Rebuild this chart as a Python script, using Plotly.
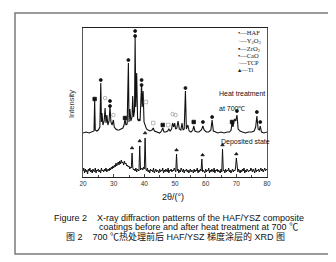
import plotly.graph_objects as go

# ---------------- data ----------------
# Heat treated at 700 C (upper pattern)
heat_x = [20, 21, 22, 23, 23.6, 23.8, 24.0, 24.5, 25.0, 25.5, 25.8, 26.0, 26.2, 26.5, 26.9, 27.2, 27.5, 27.8,
          28.1, 28.5, 28.8, 29.1, 29.5, 29.9, 30.2, 30.7, 31.2, 31.8, 32.4, 33.0, 33.4, 33.7, 34.0, 34.4, 34.8,
          35.0, 35.3, 35.6, 36.0, 36.2, 36.5, 36.8, 37.0, 37.2, 37.5, 37.8, 38.1, 38.3, 38.6, 39.0, 39.1, 39.3,
          39.6, 39.9, 40.3, 40.7, 41.2, 41.8, 42.5, 42.9, 43.3, 44, 45, 45.6, 46.0, 46.4, 47, 47.6, 48.0, 48.4,
          48.9, 49.2, 49.6, 49.9, 50.2, 50.6, 51.0, 51.4, 51.9, 52.3, 52.6, 53.0, 53.4, 53.7, 54.2, 54.6, 55.2,
          55.8, 56.1, 56.5, 57.2, 57.8, 58.6, 59.1, 59.5, 60.2, 61.0, 61.7, 62.1, 62.5, 63.2, 64, 65, 66, 67,
          67.8, 68.3, 68.6, 68.9, 69.4, 69.8, 70.2, 70.6, 71.2, 72, 73, 74, 75, 75.8, 76.3, 76.7, 77.1, 77.5,
          77.8, 78.2, 79, 80]
heat_y = [44, 45, 44, 45, 46, 77, 47, 46, 47, 50, 94, 55, 64, 52, 56, 69, 54, 62,
          52, 56, 71, 55, 52, 57, 50, 48, 47, 47, 48, 49, 52, 58, 52, 53, 114,
          55, 68, 56, 60, 81, 60, 66, 140, 70, 104, 58, 56, 58, 56, 80, 93, 70,
          86, 55, 50, 48, 47, 46, 47, 49, 46, 45, 44, 46, 49, 45, 45, 46, 48, 46,
          48, 54, 50, 54, 48, 49, 56, 48, 47, 54, 47, 48, 86, 48, 52, 46, 45,
          47, 51, 46, 45, 45, 47, 51, 47, 45, 45, 47, 57, 46, 45, 44, 45, 44, 45,
          45, 47, 55, 50, 58, 56, 62, 48, 46, 45, 44, 45, 45, 46, 50, 61, 48, 47,
          51, 45, 44, 45]

# As-deposited (lower pattern), 2theta from 20 to 80 in 0.25 steps
dep_start, dep_step = 20.0, 0.25
dep_y = [6, 9, 4, 8, 5, 7, 3, 8, 6, 9, 5, 7, 4, 8, 6, 5, 9, 4, 7, 6,
         8, 5, 7, 4, 9, 6, 7, 5, 8, 6, 9, 5, 7, 8, 6, 9, 7, 10, 8, 11,
         9, 12, 10, 14, 11, 13, 15, 12, 16, 13, 17, 14, 15, 12, 16, 13, 14, 11, 12, 10,
         11, 8, 10, 9, 24, 9, 7, 8, 6, 9, 5, 8, 7, 6, 31, 7, 8, 9, 7, 10,
         8, 39, 8, 6, 9, 5, 7, 4, 8, 6, 7, 5, 9, 4, 6, 8, 5, 7, 6, 4,
         8, 5, 7, 6, 9, 4, 7, 5, 8, 6, 5, 9, 4, 7, 6, 8, 5, 7, 6, 9,
         7, 5, 23, 6, 8, 4, 7, 5, 9, 6, 5, 8, 4, 7, 6, 8, 5, 7, 4, 6,
         8, 5, 7, 6, 4, 8, 5, 7, 6, 9, 4, 7, 5, 8, 6, 18, 5, 7, 6, 4,
         8, 5, 7, 6, 9, 4, 7, 5, 8, 6, 5, 9, 4, 7, 6, 8, 5, 7, 6, 4,
         8, 5, 28, 6, 7, 4, 8, 5, 7, 6, 9, 5, 7, 4, 6, 8, 5, 7, 6, 9,
         19, 7, 5, 8, 6, 4, 7, 5, 8, 6, 9, 4, 7, 5, 8, 6, 5, 7, 6, 9,
         7, 5, 8, 6, 4, 9, 5, 7, 6, 8, 5, 7, 9, 6, 8, 5, 7, 9, 6, 8, 7]
dep_x = [dep_start + dep_step * i for i in range(len(dep_y))]

# phase identification markers (position, marker height)
haf_x = [25.8, 28.8, 34.8, 37.0, 39.1, 53.4, 59.1, 62.1, 70.2, 76.7, 77.8]
haf_y = [97, 76, 117, 146, 97, 89, 55, 60, 66, 65, 55]
cao_x = [28.8, 37.0, 39.1]
cao_y = [71, 141, 92]
y2o3_x = [27.2, 29.9, 49.2, 50.2]
y2o3_y = [79, 62, 63, 62]
zro2_x = [23.8, 33.7, 46.0, 56.1, 68.6]
zro2_y = [78, 59, 52, 55, 55]
tcp_x = [40.5, 42.9, 47.8]
tcp_y = [75, 54, 52]
ti_x = [36.0, 38.5, 40.25, 50.5, 59.0, 65.5, 70.0]
ti_y = [29, 36, 44, 27, 22, 32, 23]

x_ticks = [20, 30, 40, 50, 60, 70, 80]
x_tick_text = ["20", "30", "40", "50", "60", "70", "80"]

legend_names = ["HAF", "Y<sub>2</sub>O<sub>3</sub>", "ZrO<sub>2</sub>", "CaO", "TCP", "Ti"]
legend_syms = ["•", "<span style='color:#b0b0b0'>◦</span>", "▪", "•",
               "<span style='color:#b0b0b0'>▫</span>", "▴"]

# ---------------- figure ----------------
W, H = 336, 262
L, R, T, B = 75, 259, 20, 169


def px(x):
    return (x - L) / (R - L)


def py(y):
    return (B - y) / (B - T)


fig = go.Figure()
fig.add_trace(go.Scatter(x=heat_x, y=heat_y, mode="lines",
                         line=dict(color="#111111", width=1.1), hoverinfo="skip"))
fig.add_trace(go.Scatter(x=dep_x, y=dep_y, mode="lines",
                         line=dict(color="#111111", width=1.0), hoverinfo="skip"))

mk = [
    (haf_x, haf_y, "circle", "#111111", 3),
    (cao_x, cao_y, "circle", "#111111", 3),
    (y2o3_x, y2o3_y, "circle-open", "#a0a0a0", 3.5),
    (zro2_x, zro2_y, "square", "#111111", 3.5),
    (tcp_x, tcp_y, "square-open", "#a8a8a8", 3.5),
    (ti_x, ti_y, "triangle-up", "#111111", 3),
]
for xs, ys, sym, col, sz in mk:
    fig.add_trace(go.Scatter(x=xs, y=ys, mode="markers",
                             marker=dict(symbol=sym, color=col, size=sz,
                                         line=dict(width=0.8, color=col)),
                             hoverinfo="skip"))

ann = []
# legend (as text)
leg_y = [25, 33, 41, 48, 54, 61]
for sym, name, yy in zip(legend_syms, legend_names, leg_y):
    ann.append(dict(x=px(228), y=py(yy), xref="paper", yref="paper", xanchor="left", yanchor="middle",
                    text=sym + "—" + name, showarrow=False,
                    font=dict(family="Liberation Serif, DejaVu Serif", size=6.5, color="#222")))

ann += [
    dict(x=px(209), y=py(85), text="Heat treatment", xanchor="left"),
    dict(x=px(209), y=py(100), text="at 700℃", xanchor="left"),
    dict(x=px(211), y=py(134), text="Deposited state", xanchor="left"),
]
for a in ann[-3:]:
    a.update(xref="paper", yref="paper", yanchor="middle", showarrow=False,
             font=dict(family="Liberation Sans, Arial", size=7, color="#111"))

ann.append(dict(x=px(64), y=py(96), xref="paper", yref="paper", text="Intensity", textangle=-90,
                showarrow=False, xanchor="center", yanchor="middle",
                font=dict(family="Liberation Sans, Arial", size=7.5, color="#333")))
ann.append(dict(x=px(165), y=py(189), xref="paper", yref="paper", text="2θ/(°)",
                showarrow=False, xanchor="center", yanchor="middle",
                font=dict(family="Liberation Sans, Arial", size=9, color="#111")))

cap = [
    (171, 210, "Figure 2    X-ray diffraction patterns of the HAF/YSZ composite"),
    (190, 219, "coatings before and after heat treatment at 700 ℃"),
    (167, 228, "图 2    700 ℃热处理前后 HAF/YSZ 梯度涂层的 XRD 图"),
]
for cx, cy, t in cap:
    ann.append(dict(x=px(cx), y=py(cy), xref="paper", yref="paper", text=t, showarrow=False,
                    xanchor="center", yanchor="middle",
                    font=dict(family="Liberation Sans, Noto Sans CJK SC, Arial", size=9, color="#111")))

fig.update_layout(
    width=W, height=H,
    margin=dict(l=L, r=W - R, t=T, b=H - B, pad=0),
    paper_bgcolor="white", plot_bgcolor="white",
    showlegend=False,
    annotations=ann,
    shapes=[dict(type="rect", xref="paper", yref="paper",
                 x0=px(7), x1=px(326), y0=py(246), y1=py(5),
                 line=dict(color="#7a7a7a", width=1.5), fillcolor="rgba(0,0,0,0)", layer="below")],
    xaxis=dict(range=[20, 80], tickvals=x_ticks, ticktext=x_tick_text, ticks="inside", ticklen=3,
               showline=True, linecolor="#222", linewidth=1, mirror=True, showgrid=False, zeroline=False,
               tickfont=dict(family="Liberation Sans, Arial", size=6.5, color="#333"),
               minor=dict(ticks="inside", ticklen=2, dtick=5, tick0=20)),
    yaxis=dict(range=[0, 149], showticklabels=False, ticks="", showline=True, linecolor="#555",
               linewidth=1, mirror=True, showgrid=False, zeroline=False),
)

fig.write_html("out.html")
